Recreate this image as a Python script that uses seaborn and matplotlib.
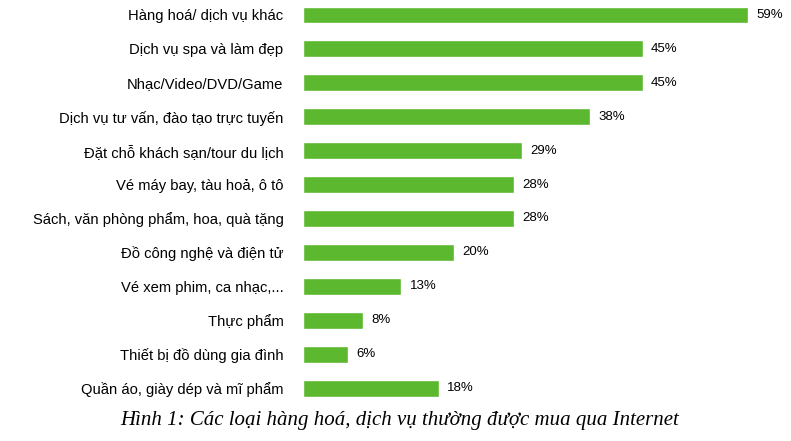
import matplotlib
matplotlib.use("Agg")
import matplotlib.pyplot as plt
import seaborn as sns

# Data
categories = [
    "Hàng hoá/ dịch vụ khác",
    "Dịch vụ spa và làm đẹp",
    "Nhạc/Video/DVD/Game",
    "Dịch vụ tư vấn, đào tạo trực tuyến",
    "Đặt chỗ khách sạn/tour du lịch",
    "Vé máy bay, tàu hoả, ô tô",
    "Sách, văn phòng phẩm, hoa, quà tặng",
    "Đồ công nghệ và điện tử",
    "Vé xem phim, ca nhạc,...",
    "Thực phẩm",
    "Thiết bị đồ dùng gia đình",
    "Quần áo, giày dép và mĩ phẩm",
]
values = [59, 45, 45, 38, 29, 28, 28, 20, 13, 8, 6, 18]
caption = "Hình 1: Các loại hàng hoá, dịch vụ thường được mua qua Internet"

sns.set_style("white")
plt.rcParams["font.family"] = ["Liberation Sans", "DejaVu Sans"]
plt.rcParams["text.color"] = "black"
plt.rcParams["ytick.color"] = "black"

W, H = 791, 441
fig = plt.figure(figsize=(W / 100, H / 100), dpi=100)
ax = fig.add_axes([303 / W, (H - 405) / H, 453 / W, 405 / H])

sns.barplot(x=values, y=categories, orient="h", color="#5cb82f",
            saturation=1, width=0.5, ax=ax)

ax.set_xlim(0, 60)
ax.set_ylim(11.5, -0.442)
sns.despine(ax=ax, left=True, bottom=True)
ax.set_xticks([])
ax.set_xlabel("")
ax.set_ylabel("")
ax.tick_params(axis="y", length=0, pad=14, labelsize=10.6, labelcolor="black")

for i, v in enumerate(values):
    ax.annotate(f"{v}%", xy=(v, i), xytext=(6, 0), textcoords="offset points",
                va="center", ha="left", fontsize=9.5, color="black", clip_on=False)

fig.text(0.505, 0.025, caption, ha="center", va="bottom", fontsize=15,
         style="italic", color="black", family=["Liberation Serif", "DejaVu Serif"])

fig.savefig("out.png", dpi=100)
